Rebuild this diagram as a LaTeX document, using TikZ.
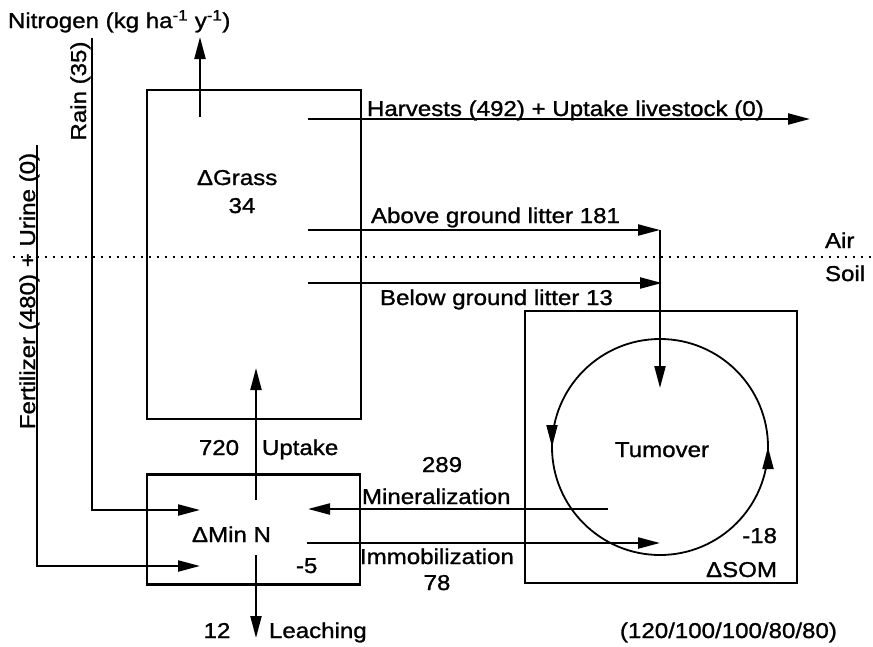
\documentclass[tikz,border=0pt]{standalone}
\usepackage{fontspec}
\setmainfont{Liberation Sans}[FakeStretch=1.12, FakeBold=1.2]
\usetikzlibrary{arrows.meta}
\begin{document}
\begin{tikzpicture}[x=1pt,y=-1pt,
  font=\fontsize{21.5}{25}\selectfont,
  line width=2.2pt,
  box/.style={draw, rectangle, inner sep=0pt, outer sep=0pt},
  arr/.style={-{Triangle[length=22pt,width=11pt]}},
  lbl/.style={inner sep=0pt, outer sep=0pt},
  dotline/.style={line width=1.6pt, dash pattern=on 1.6pt off 6.4pt}]
\useasboundingbox (0,0) rectangle (873,646);

% boxes
\node[box, minimum width=214pt, minimum height=329pt] (grass) at (254,254.5) {};
\node[box, minimum width=213pt, minimum height=110pt] (minn) at (253.5,529.5) {};
\node[box, minimum width=272pt, minimum height=272pt] (som) at (661,447) {};
\node[draw, circle, line width=1.8pt, minimum size=216pt, inner sep=0pt, outer sep=0pt] (turn) at (660,447) {};

% air / soil divider
\coordinate (dl) at (13,257);
\coordinate (dr) at (873,257);
\draw[dotline] (dl) -- (dr);

% coordinates for connector ends
\coordinate (rainTop) at (92,38);
\coordinate (rainIn) at (200,510);
\coordinate (fertTop) at (37,145);
\coordinate (fertIn) at (200,566);
\coordinate (gOut) at (200,117);
\coordinate (gTop) at (200,37);
\coordinate (harvA) at (308,119);
\coordinate (harvB) at (810,119);
\coordinate (abA) at (308,230);
\coordinate (abB) at (660,230);
\coordinate (turnIn) at (660,388);
\coordinate (beA) at (308,283);
\coordinate (beB) at (662,283);
\coordinate (upA) at (256,500);
\coordinate (upB) at (256,368);
\coordinate (leA) at (256,555);
\coordinate (leB) at (256,638);
\coordinate (minA) at (608,509);
\coordinate (minB) at (308,509);
\coordinate (immA) at (307,543);
\coordinate (immB) at (660,543);

% connectors
\draw[arr] (rainTop) |- (rainIn);
\draw[arr] (fertTop) |- (fertIn);
\draw[arr] (gOut) -- (gTop);
\draw[arr] (harvA) -- (harvB);
\draw[arr] (abA) -- (abB);
\draw[arr] (abB) -- (turnIn);
\draw[arr] (beA) -- (beB);
\draw[arr] (upA) -- (upB);
\draw[arr] (leA) -- (leB);
\draw[arr] (minA) -- (minB);
\draw[arr] (immA) -- (immB);
\draw[arr, line width=1.8pt] ([yshift=16pt]turn.west) -- (turn.west);
\draw[arr, line width=1.8pt] ([yshift=-16pt]turn.east) -- (turn.east);

% labels
\node[lbl, anchor=base west] (nitro) at (8,28) {Nitrogen (kg ha\textsuperscript{-1} y\textsuperscript{-1})};
\node[lbl, rotate=90, anchor=base] (rain) at (86,91) {Rain (35)};
\node[lbl, rotate=90, anchor=base] (fert) at (35,291) {Fertilizer (480) + Urine (0)};
\node[lbl, anchor=base west] (harv) at (367,116) {Harvests (492) + Uptake livestock (0)};
\node[lbl, anchor=base west] (above) at (371,223) {Above ground litter 181};
\node[lbl, anchor=base west] (below) at (380,305) {Below ground litter 13};
\node[lbl, anchor=base west] (air) at (825,248) {Air};
\node[lbl, anchor=base west] (soil) at (825,281) {Soil};
\node[lbl, anchor=base west] (dgrass) at (197,185) {ΔGrass};
\node[lbl, anchor=base] (g34) at (242,213) {34};
\node[lbl, anchor=base] (u720) at (219,455) {720};
\node[lbl, anchor=base west] (uptake) at (262,455) {Uptake};
\node[lbl, anchor=base] (m289) at (442,472) {289};
\node[lbl, anchor=base west] (miner) at (362,504) {Mineralization};
\node[lbl, anchor=base west] (immob) at (360,564) {Immobilization};
\node[lbl, anchor=base] (i78) at (437,590) {78};
\node[lbl, anchor=base west] (dminn) at (192,542) {ΔMin N};
\node[lbl, anchor=base west] (m5) at (296,573) {-5};
\node[lbl, anchor=base] (tumover) at (662,457) {Tumover};
\node[lbl, anchor=base east] (m18) at (777,543) {-18};
\node[lbl, anchor=base east] (dsom) at (777,577) {ΔSOM};
\node[lbl, anchor=base] (l12) at (217,638) {12};
\node[lbl, anchor=base west] (leach) at (269,638) {Leaching};
\node[lbl, anchor=base west] (ratio) at (620,638) {(120/100/100/80/80)};
\end{tikzpicture}
\end{document}
